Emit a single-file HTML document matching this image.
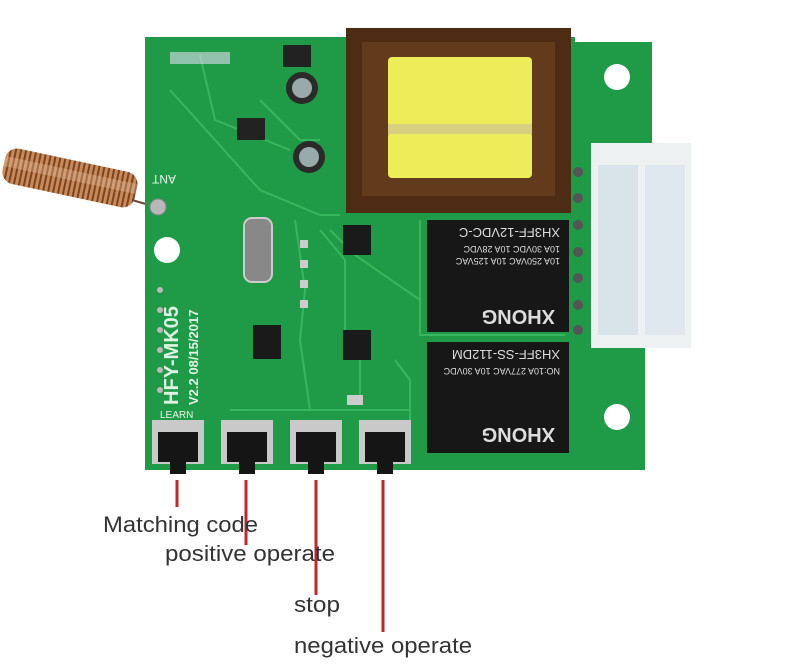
<!DOCTYPE html>
<html><head><meta charset="utf-8"><style>
html,body{margin:0;padding:0;background:#fff;width:800px;height:666px;overflow:hidden}
svg{display:block}
text{font-family:"Liberation Sans",sans-serif}
</style></head><body>
<svg width="800" height="666" viewBox="0 0 800 666" xmlns="http://www.w3.org/2000/svg">
<defs>
<pattern id="coil" width="5" height="60" patternUnits="userSpaceOnUse">
<rect width="5" height="60" fill="#c98a5a"/><rect x="0" width="2" height="60" fill="#7a4422"/>
</pattern>
</defs>
<!-- antenna -->
<g transform="rotate(12 70 180)">
<rect x="2" y="160" width="135" height="36" rx="12" fill="url(#coil)"/>
<rect x="2" y="170" width="135" height="10" fill="#e8c4a0" opacity="0.35"/>
</g>
<line x1="132" y1="200" x2="156" y2="207" stroke="#6b4a3a" stroke-width="2"/>
<!-- board -->
<path d="M145,37 L575,37 L575,42 L652,42 L652,150 L645,150 L645,470 L145,470 Z" fill="#1f9a46"/>
<!-- traces -->
<g stroke="#3fbe64" stroke-width="2" fill="none" opacity="0.8">
<path d="M170,90 L260,190 L320,215 L340,215"/>
<path d="M200,55 L215,120 L290,150"/>
<path d="M260,100 L300,140 L320,140"/>
<path d="M320,230 L345,260 L345,330 L360,360 L360,400"/>
<path d="M330,230 L355,255 L420,300 L420,330"/>
<path d="M295,220 L305,290 L300,340 L310,410"/>
<path d="M230,410 L410,410"/>
<path d="M395,360 L410,380 L410,420"/>
<path d="M420,220 L420,335 L565,335"/>
</g>
<!-- text on board -->
<text x="164" y="183" font-size="12" fill="#e8f5ec" text-anchor="middle" transform="rotate(180 164 179)">ANT</text>
<text x="0" y="0" font-size="20" font-weight="bold" fill="#dff3e4" transform="translate(178,405) rotate(-90)">HFY-MK05</text>
<text x="0" y="0" font-size="13" font-weight="bold" fill="#dff3e4" transform="translate(198,405) rotate(-90)">V2.2   08/15/2017</text>
<text x="160" y="418" font-size="10" fill="#e8f5ec">LEARN</text>
<!-- holes -->
<circle cx="167" cy="250" r="13" fill="#fff"/>
<circle cx="617" cy="77" r="13" fill="#fff"/>
<circle cx="617" cy="417" r="13" fill="#fff"/>
<circle cx="158" cy="207" r="8" fill="#b8b8b8" stroke="#888"/>
<!-- small components -->
<rect x="283" y="45" width="28" height="22" fill="#222"/>
<circle cx="302" cy="88" r="16" fill="#2a2a2a"/><circle cx="302" cy="88" r="10" fill="#9aa"/>
<circle cx="309" cy="157" r="16" fill="#2a2a2a"/><circle cx="309" cy="157" r="10" fill="#9aa"/>
<rect x="237" y="118" width="28" height="22" fill="#222"/>
<rect x="170" y="52" width="60" height="12" fill="#dde" opacity="0.6"/>
<rect x="244" y="218" width="28" height="64" rx="8" fill="#888" stroke="#ccc" stroke-width="2"/>
<rect x="253" y="325" width="28" height="34" fill="#1a1a1a"/>
<rect x="343" y="225" width="28" height="30" fill="#1a1a1a"/>
<rect x="343" y="330" width="28" height="30" fill="#1a1a1a"/>
<rect x="347" y="395" width="16" height="10" fill="#ccc"/>
<g fill="#ccc"><rect x="300" y="240" width="8" height="8"/><rect x="300" y="260" width="8" height="8"/><rect x="300" y="280" width="8" height="8"/><rect x="300" y="300" width="8" height="8"/></g>
<g fill="#bbb"><circle cx="160" cy="290" r="3"/><circle cx="160" cy="310" r="3"/><circle cx="160" cy="330" r="3"/><circle cx="160" cy="350" r="3"/><circle cx="160" cy="370" r="3"/><circle cx="160" cy="390" r="3"/></g>
<!-- transformer -->
<rect x="346" y="28" width="225" height="185" fill="#4e2c14"/>
<rect x="362" y="42" width="193" height="154" fill="#623b1c"/>
<rect x="388" y="57" width="144" height="70" rx="4" fill="#eded5a"/>
<rect x="388" y="132" width="144" height="46" rx="4" fill="#eded5a"/>
<rect x="388" y="124" width="144" height="10" fill="#d6d080"/>
<!-- connector -->
<g fill="#555"><circle cx="578" cy="172" r="5"/><circle cx="578" cy="198" r="5"/><circle cx="578" cy="225" r="5"/><circle cx="578" cy="252" r="5"/><circle cx="578" cy="278" r="5"/><circle cx="578" cy="305" r="5"/><circle cx="578" cy="330" r="5"/></g>
<rect x="591" y="143" width="100" height="205" fill="#eef1f2"/>
<rect x="598" y="165" width="40" height="170" fill="#d8e3ea"/>
<rect x="645" y="165" width="40" height="170" fill="#dfe8ee"/>
<!-- relays -->
<rect x="427" y="220" width="142" height="112" fill="#171717"/>
<rect x="427" y="342" width="142" height="111" fill="#171717"/>
<g fill="#ddd" font-size="11">
<text x="0" y="0" transform="translate(560,228) rotate(180)" font-size="13">XH3FF-12VDC-C</text>
<text x="0" y="0" transform="translate(560,246) rotate(180)" font-size="9">10A 30VDC 10A 28VDC</text>
<text x="0" y="0" transform="translate(560,258) rotate(180)" font-size="9">10A 250VAC 10A 125VAC</text>
<text x="0" y="0" transform="translate(555,310) rotate(180)" font-size="20" font-weight="bold">XHONG</text>
<text x="0" y="0" transform="translate(560,350) rotate(180)" font-size="13">XH3FF-SS-112DM</text>
<text x="0" y="0" transform="translate(560,368) rotate(180)" font-size="9">NO:10A 277VAC 10A 30VDC</text>
<text x="0" y="0" transform="translate(555,428) rotate(180)" font-size="20" font-weight="bold">XHONG</text>
</g>
<!-- buttons -->
<g>
<rect x="152" y="420" width="52" height="44" fill="#c9c9c9"/><rect x="158" y="432" width="40" height="30" fill="#151515"/><rect x="170" y="462" width="16" height="12" fill="#151515"/>
<rect x="221" y="420" width="52" height="44" fill="#c9c9c9"/><rect x="227" y="432" width="40" height="30" fill="#151515"/><rect x="239" y="462" width="16" height="12" fill="#151515"/>
<rect x="290" y="420" width="52" height="44" fill="#c9c9c9"/><rect x="296" y="432" width="40" height="30" fill="#151515"/><rect x="308" y="462" width="16" height="12" fill="#151515"/>
<rect x="359" y="420" width="52" height="44" fill="#c9c9c9"/><rect x="365" y="432" width="40" height="30" fill="#151515"/><rect x="377" y="462" width="16" height="12" fill="#151515"/>
</g>
<!-- red leaders -->
<g stroke="#c1272d" stroke-width="3">
<line x1="177" y1="480" x2="177" y2="507"/>
<line x1="246" y1="480" x2="246" y2="545"/>
<line x1="316" y1="480" x2="316" y2="595"/>
<line x1="383" y1="480" x2="383" y2="632"/>
</g>
<!-- labels -->
<g font-size="22" fill="#333">
<text x="103" y="532" textLength="155" lengthAdjust="spacingAndGlyphs">Matching code</text>
<text x="165" y="561" textLength="170" lengthAdjust="spacingAndGlyphs">positive operate</text>
<text x="294" y="612" textLength="46" lengthAdjust="spacingAndGlyphs">stop</text>
<text x="294" y="653" textLength="178" lengthAdjust="spacingAndGlyphs">negative operate</text>
</g>
</svg>
</body></html>
